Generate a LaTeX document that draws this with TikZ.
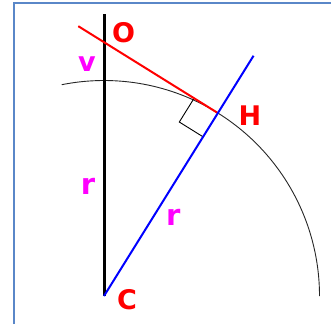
\documentclass[tikz,border=0pt]{standalone}
\usepackage{fontspec}
\setmainfont{DejaVu Sans}
\usetikzlibrary{calc}
\definecolor{frameblue}{RGB}{90,135,200}
\definecolor{mag}{RGB}{255,0,255}
\begin{document}
\begin{tikzpicture}[x=1pt,y=1pt,
  lbl/.style={inner sep=0pt,font=\bfseries\fontsize{27}{27}\selectfont},
  ptlbl/.style={lbl,text=red},
  rlbl/.style={inner sep=0pt,text=mag,font=\bfseries\fontsize{29}{29}\selectfont},
  vlbl/.style={lbl,text=mag}]
\useasboundingbox (0,0) rectangle (331,324);
% frame (only top and left edges visible)
\draw[frameblue,line width=2pt] (14,0) -- (14,321) -- (331,321);
% points
\coordinate (C) at (104,28);
\coordinate (T) at (104,310);
\coordinate (H) at ($(C)+(58.1:215.5)$);
\coordinate (B) at ($(C)+(58.1:283)$);
\coordinate (O) at (104,281.8);
\coordinate (R) at ($(O)+(148.1:30.3)$);
\coordinate (Q1) at ($(H)+(238.1:28)$);
\coordinate (Q2) at ($(H)+(148.1:28)$);
\coordinate (Q3) at ($(Q1)+(148.1:28)$);
% circle arc
\draw[black!85,line width=0.9pt] ($(C)+(0:215.5)$) arc[start angle=0,end angle=101.3,radius=215.5];
% right angle
\draw[black,line width=0.9pt] (Q1) -- (Q3) -- (Q2);
% lines
\draw[black,line width=3pt] (C) -- (T);
\draw[red,line width=2pt] (R) -- (H);
\draw[blue,line width=2pt] (C) -- (B);
% labels
\node[ptlbl] (lO) at (123.5,291) {O};
\node[ptlbl] (lH) at (249.8,208) {H};
\node[ptlbl] (lC) at (127,24.5) {C};
\node[vlbl] (lv) at (87,259.5) {v};
\node[rlbl] (lr1) at (88,138) {r};
\node[rlbl] (lr2) at (173.3,107) {r};
\end{tikzpicture}
\end{document}
